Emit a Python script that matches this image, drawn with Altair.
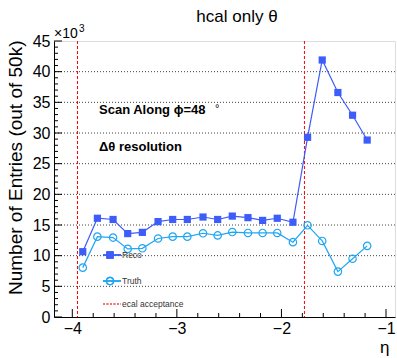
import altair as alt
import pandas as pd

# Scan points in eta and the entries per point (in units of 10^3, out of 50k)
eta = [-3.90, -3.76, -3.61, -3.47, -3.33, -3.18, -3.04, -2.90, -2.75, -2.61,
       -2.47, -2.32, -2.18, -2.04, -1.89, -1.75, -1.61, -1.46, -1.32, -1.18]
reco_k = [10.65, 16.1, 15.9, 13.6, 13.8, 15.55, 15.9, 15.9, 16.3, 15.9,
          16.45, 16.2, 15.75, 16.1, 15.45, 29.3, 41.9, 36.6, 32.9, 28.85]
truth_k = [8.05, 13.1, 12.95, 11.1, 11.2, 12.8, 13.1, 13.1, 13.65, 13.3,
           13.85, 13.7, 13.7, 13.7, 12.2, 14.95, 12.4, 7.4, 9.5, 11.6]

# ECAL acceptance edges in eta
ecal_edges = [-3.95, -1.78]

# Axis ticks and grid
y_grid = [5, 10, 15, 20, 25, 30, 35, 40]
y_major = [0, 5, 10, 15, 20, 25, 30, 35, 40, 45]
y_minor = [v for v in range(0, 46) if v % 5 != 0]
x_major = [-4, -3, -2, -1]
x_minor = [-3.8, -3.6, -3.4, -3.2, -2.8, -2.6, -2.4, -2.2,
           -1.8, -1.6, -1.4, -1.2]

legend_labels = ["Reco", "Truth", "ecal acceptance"]
plot_title = "hcal only θ"

FONT = "Liberation Sans"
BLUE = "#3d5cfa"
CYAN = "#1ea6f2"
RED = "#ff0000"
W, H = 341, 276

xs = alt.Scale(domain=[-4.175, -0.914], nice=False, zero=False)
ys = alt.Scale(domain=[0, 45], nice=False, zero=False)

x_axis = alt.Axis(values=x_major, format="d", grid=False, ticks=False, tickSize=0,
                  domain=True, domainColor="black", domainWidth=1,
                  labelFont=FONT, labelFontSize=16, labelColor="black", labelPadding=3,
                  title="η", titleFont=FONT, titleFontSize=17, titleFontWeight="normal",
                  titleColor="black", titleAlign="right", titleBaseline="alphabetic",
                  titleX=335, titleY=35)
y_axis = alt.Axis(values=y_major, format="d", grid=False, ticks=False, tickSize=0,
                  domain=True, domainColor="black", domainWidth=1,
                  labelFont=FONT, labelFontSize=16, labelColor="black", labelPadding=4,
                  title="Number of Entries (out of 50k)", titleFont=FONT,
                  titleFontSize=19, titleFontWeight="normal", titleColor="black",
                  titleAngle=270, titleAlign="right", titleBaseline="middle",
                  titleX=-39, titleY=-1)


def X(field):
    return alt.X(field, scale=xs, axis=x_axis)


def Y(field):
    return alt.Y(field, scale=ys, axis=y_axis)


df = pd.DataFrame({"eta": eta, "reco": reco_k, "truth": truth_k})

# dotted horizontal grid
grid = alt.Chart(pd.DataFrame({"v": y_grid})).mark_rule(
    color="#444444", strokeWidth=1, strokeDash=[1, 2]
).encode(y=Y("v:Q"))


# inner tick marks
def y_ticks(vals, length):
    return alt.Chart(pd.DataFrame({"v": vals})).mark_rule(color="black", strokeWidth=1).encode(
        y=Y("v:Q"), x=alt.value(0), x2=alt.value(length))


def x_ticks(vals, length):
    return alt.Chart(pd.DataFrame({"v": vals})).mark_rule(color="black", strokeWidth=1).encode(
        x=X("v:Q"), y=alt.value(H), y2=alt.value(H - length))


# ECAL acceptance edges
ecal = alt.Chart(pd.DataFrame({"edge": ecal_edges})).mark_rule(
    color=RED, strokeWidth=1, strokeDash=[3, 2]
).encode(x=X("edge:Q"))

base = alt.Chart(df)
reco_line = base.mark_line(color=BLUE, strokeWidth=1.2).encode(x=X("eta:Q"), y=Y("reco:Q"))
reco_pts = base.mark_point(shape="square", filled=True, size=52, color=BLUE, opacity=1).encode(
    x=X("eta:Q"), y=Y("reco:Q"))
truth_line = base.mark_line(color=CYAN, strokeWidth=1.2).encode(x=X("eta:Q"), y=Y("truth:Q"))
truth_pts = base.mark_point(shape="circle", filled=False, size=55, strokeWidth=1.2,
                            color=CYAN, opacity=1).encode(x=X("eta:Q"), y=Y("truth:Q"))

# legend entries
leg = alt.Chart(pd.DataFrame({"label": legend_labels}))
LX0, LX1, LM, LT = 49, 67, 56, 68
rows = [214, 240, 263]
leg_reco_line = leg.mark_rule(color=BLUE, strokeWidth=1.2).encode(
    x=alt.value(LX0), x2=alt.value(LX1), y=alt.value(rows[0]))
leg_reco_pt = leg.mark_point(shape="square", filled=True, size=52, color=BLUE, opacity=1).encode(
    x=alt.value(LM), y=alt.value(rows[0]))
leg_truth_line = leg.mark_rule(color=CYAN, strokeWidth=1.2).encode(
    x=alt.value(LX0), x2=alt.value(LX1), y=alt.value(rows[1]))
leg_truth_pt = leg.mark_point(shape="circle", filled=False, size=55, strokeWidth=1.2,
                              color=CYAN, opacity=1).encode(
    x=alt.value(LM), y=alt.value(rows[1]))
leg_ecal_line = leg.mark_rule(color="#ff5a5a", strokeWidth=1.2, strokeDash=[2, 1.5]).encode(
    x=alt.value(LX0), x2=alt.value(LX1), y=alt.value(rows[2]))


def leg_text(i):
    return alt.Chart(pd.DataFrame({"label": [legend_labels[i]]})).mark_text(
        font=FONT, fontSize=8.5, color="#333333", align="left", baseline="middle"
    ).encode(text="label:N", x=alt.value(LT), y=alt.value(rows[i]))


def text_at(t, x, y, size, weight="normal", align="left"):
    return alt.Chart(pd.DataFrame({"t": [t]})).mark_text(
        font=FONT, fontSize=size, fontWeight=weight, color="black",
        align=align, baseline="alphabetic"
    ).encode(text="t:N", x=alt.value(x), y=alt.value(y))


# title, annotations and the y-axis exponent
title = text_at(plot_title, 183, -19, 17, align="center")
annot = text_at("Scan Along ϕ=48", 45, 73, 13, "bold")
deg = text_at("°", 161, 71, 11)
annot2 = text_at("Δθ resolution", 45, 110, 13, "bold")
exp_base = text_at("×10", 0, -3, 14)
exp_pow = text_at("3", 25, -9, 10)

chart = alt.layer(
    grid, ecal,
    y_ticks(y_major, 8), y_ticks(y_minor, 4), x_ticks(x_major, 8), x_ticks(x_minor, 4),
    reco_line, truth_line, truth_pts, reco_pts,
    leg_reco_line, leg_reco_pt, leg_truth_line, leg_truth_pt, leg_ecal_line,
    leg_text(0), leg_text(1), leg_text(2),
    title, annot, deg, annot2, exp_base, exp_pow,
).properties(
    width=W, height=H,
    padding={"left": 54, "top": 41, "right": 2, "bottom": 41},
    autosize=alt.AutoSizeParams(type="none"),
).configure_view(
    stroke="black", strokeWidth=1
).configure(background="white")

chart.save("out.html", embed_options={"renderer": "svg", "actions": False})
